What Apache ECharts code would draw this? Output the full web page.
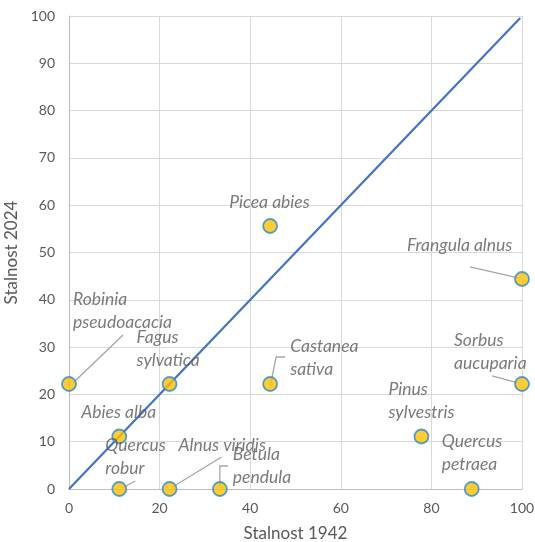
<!DOCTYPE html>
<html><head><meta charset="utf-8">
<script src="https://cdn.jsdelivr.net/npm/echarts@6/dist/echarts.min.js"></script>
<style>html,body{margin:0;padding:0;background:#fff}#c{width:535px;height:542px}</style>
</head><body><div id="c"></div>
<script>
const species = ['Robinia\npseudoacacia','Fagus\nsylvatica','Abies alba','Quercus\nrobur','Alnus viridis','Betula\npendula','Castanea\nsativa','Picea abies','Frangula alnus','Sorbus\naucuparia','Pinus\nsylvestris','Quercus\npetraea'];
const stalnost1942 = [0, 22.2, 11.1, 11.1, 22.2, 33.3, 44.4, 44.4, 100, 100, 77.8, 88.9];
const stalnost2024 = [22.2, 22.2, 11.1, 0, 0, 0, 22.2, 55.6, 44.4, 22.2, 11.1, 0];
const lineX = [0, 99.6];
const lineY = [0, 99.6];

// label offsets (pixel styling relative to each point)
const labelOffsets = [[4,-73],[-33,-35],[-38,-24],[-14,-32],[9,-44],[13,-23],[20,-26],[-41,-24],[-115,-34],[-68,-32],[-33,-36],[-30,-36]];
// leader-line shapes (pixel styling relative to each point); null = no leader
const leaderShapes = [
  [[54,-49],[4,-1]],
  null, null,
  [[16,-8],[3,-1]],
  [[52,-32],[3,-2]],
  [[0,-3],[0,-23],[8,-23]],
  [[1,-2],[6,-27],[15,-27]],
  null,
  [[-52,-12],[-4,-1]],
  [[-30,-8],[-4,-1]],
  null, null
];

const font = 'Lato, "Open Sans", sans-serif';
const scatterData = species.map((s,i)=>({
  name: s,
  value: [stalnost1942[i], stalnost2024[i]],
  label: {offset: labelOffsets[i]}
}));
const leaderData = [];
species.forEach((s,i)=>{ if (leaderShapes[i]) leaderData.push([stalnost1942[i], stalnost2024[i], i]); });

const chart = echarts.init(document.getElementById('c'), null, {renderer:'canvas'});
chart.setOption({
  animation: false,
  textStyle: {fontFamily: font},
  grid: {left: 69, right: 13, top: 16, bottom: 53, containLabel: false, outerBoundsMode: 'none'},
  xAxis: {
    type: 'value', min: 0, max: 100, interval: 20,
    name: 'Stalnost 1942', nameLocation: 'middle', nameGap: 36,
    nameTextStyle: {color: '#595959', fontSize: 17, fontFamily: font},
    axisLine: {show: true, lineStyle: {color: '#bfbfbf', width: 1}},
    axisTick: {show: false},
    axisLabel: {color: '#595959', fontSize: 14, fontFamily: font, margin: 12},
    splitLine: {show: true, lineStyle: {color: '#d9d9d9', width: 1}}
  },
  yAxis: {
    type: 'value', min: 0, max: 100, interval: 10,
    name: 'Stalnost 2024', nameLocation: 'middle', nameGap: 48, nameRotate: 90,
    nameTextStyle: {color: '#595959', fontSize: 17, fontFamily: font},
    axisLine: {show: true, lineStyle: {color: '#bfbfbf', width: 1}},
    axisTick: {show: false},
    axisLabel: {color: '#595959', fontSize: 14, fontFamily: font, margin: 14},
    splitLine: {show: true, lineStyle: {color: '#d9d9d9', width: 1}}
  },
  series: [
    {
      type: 'line', data: lineX.map((x,i)=>[x, lineY[i]]),
      showSymbol: false, symbol: 'none', silent: true, z: 2,
      lineStyle: {color: '#4472C4', width: 2.2}
    },
    {
      type: 'custom', data: leaderData, silent: true, z: 2,
      renderItem: function (params, api) {
        const p = api.coord([api.value(0), api.value(1)]);
        const shape = leaderShapes[api.value(2)];
        return {
          type: 'polyline',
          shape: {points: shape.map(o => [p[0] + o[0], p[1] + o[1]])},
          style: {stroke: '#a6a6a6', lineWidth: 1.3, fill: null}
        };
      }
    },
    {
      type: 'scatter', data: scatterData, z: 3,
      symbolSize: 14,
      itemStyle: {color: '#FFC000', borderColor: '#2A8AD4', borderWidth: 1.8},
      label: {
        show: true, formatter: '{b}', position: 'inside', align: 'left', verticalAlign: 'middle',
        color: '#595959', fontStyle: 'italic', fontSize: 17.5, lineHeight: 23, fontFamily: font
      },
      emphasis: {disabled: true}
    }
  ]
});
</script></body></html>
